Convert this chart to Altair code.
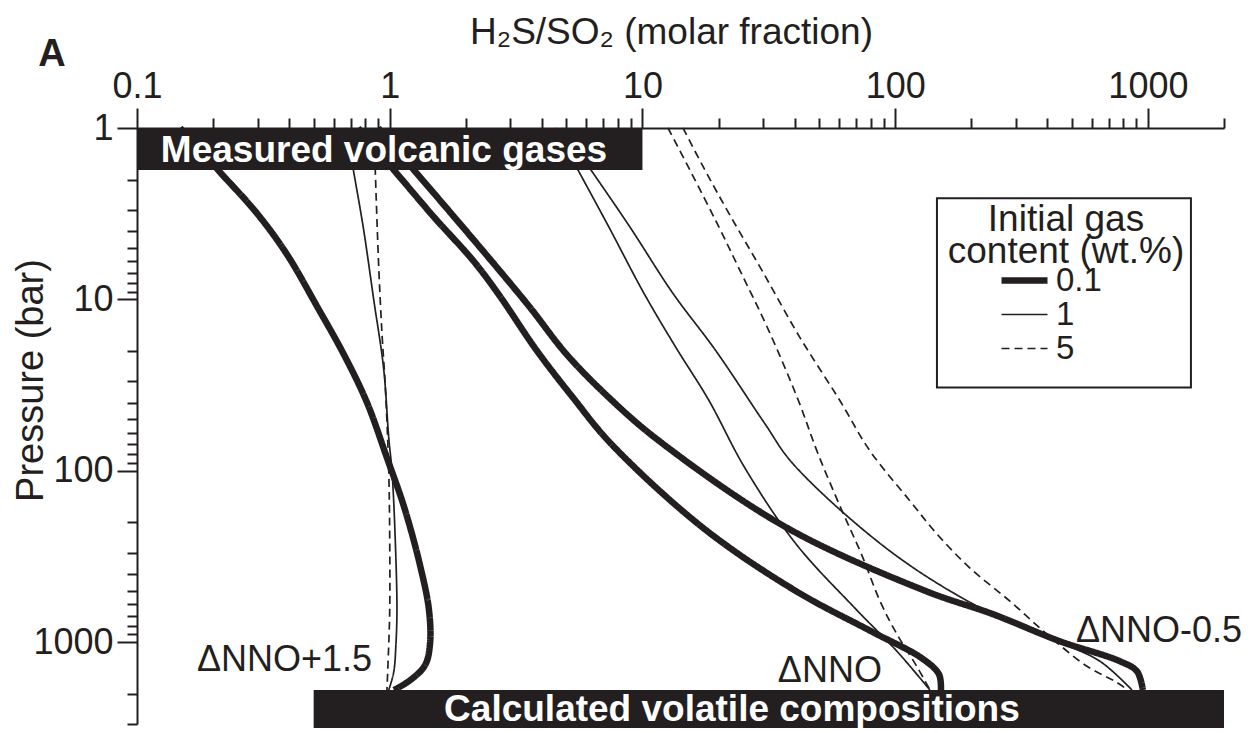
import altair as alt
import pandas as pd

FONT = "Liberation Sans, Arial, Helvetica, sans-serif"
INK = "#231f20"

# ---------------- data (H2S/SO2 ratio vs pressure in bar) ----------------
# dNNO+1.5
p_p15_01 = [1, 1.81, 3.14, 5.46, 11.0, 21.0, 40.0, 84, 162, 354, 650, 1027, 1363, 1668, 1900]
x_p15_01 = [0.148, 0.213, 0.298, 0.392, 0.516, 0.659, 0.813, 0.975, 1.139, 1.317, 1.43, 1.443, 1.379, 1.203, 1.039]
p_p15_1 = [1, 1.80, 3.95, 10, 25.3, 64, 101, 256, 647, 1032, 1496, 1900]
x_p15_1 = [0.671, 0.720, 0.789, 0.864, 0.946, 0.991, 1.021, 1.052, 1.068, 1.058, 1.037, 0.991]
p_p15_5 = [1, 1.8, 6.3, 15.9, 31.8, 101, 256, 647, 1030, 1900]
x_p15_5 = [0.866, 0.877, 0.904, 0.932, 0.960, 0.991, 1.0, 1.0, 0.991, 0.975]
# dNNO
p_0_01 = [1, 1.76, 3.31, 5.92, 9.22, 19.9, 37.4, 69.5, 215, 503, 862, 1241, 1539, 1900]
x_0_01 = [0.749, 1.039, 1.497, 2.135, 2.68, 3.82, 5.31, 7.51, 17.36, 40.5, 80.2, 127.6, 149, 151.7]
p_0_1 = [1, 1.76, 3.79, 9.22, 19.1, 38.9, 96, 267, 633, 1129, 1900]
x_0_1 = [4.51, 5.56, 7.37, 10.14, 13.57, 18.33, 25.4, 40.5, 69.3, 101.6, 137.2]
p_0_5 = [1, 1.76, 3.69, 6.77, 15.2, 38.9, 79.5, 171, 306, 576, 898, 1419, 1900]
x_0_5 = [12.62, 15.41, 19.9, 24.3, 31.6, 41.4, 49.5, 61.6, 73.5, 87.1, 101.6, 123, 137.2]
# dNNO-0.5
p_m05_01 = [1, 1.76, 3.14, 5.92, 11.14, 20.7, 37.4, 66.8, 215, 503, 686, 987, 1291, 1478, 1900]
x_m05_01 = [0.899, 1.247, 1.747, 2.516, 3.59, 4.98, 7.37, 11.62, 37.3, 132.3, 243.7, 448.6, 775, 905, 955]
p_m05_1 = [1, 1.76, 3.79, 9.22, 19.9, 53.1, 91.0, 293.7, 633, 987, 1291, 1900]
x_m05_1 = [4.80, 6.26, 8.93, 13.2, 19.5, 30.5, 39.4, 95.3, 218.4, 436.5, 645.8, 864.6]
p_m05_5 = [1, 1.76, 3.23, 6.77, 16.7, 38.9, 76.4, 149.8, 233.6, 369.3, 576, 898, 1381, 1691, 1900]
x_m05_5 = [14.47, 17.67, 22.2, 29.7, 42.0, 60.4, 79.4, 114.4, 146.3, 197.6, 284.4, 398.6, 573.8, 740.4, 833.6]

content_levels = ["0.1", "1", "5"]
curves = [
    ("p15", "0.1", p_p15_01, x_p15_01), ("p15", "1", p_p15_1, x_p15_1), ("p15", "5", p_p15_5, x_p15_5),
    ("0", "0.1", p_0_01, x_0_01), ("0", "1", p_0_1, x_0_1), ("0", "5", p_0_5, x_0_5),
    ("m05", "0.1", p_m05_01, x_m05_01), ("m05", "1", p_m05_1, x_m05_1), ("m05", "5", p_m05_5, x_m05_5),
]
rows = []
for buf, content, ps, xs in curves:
    for i, (p, x) in enumerate(zip(ps, xs)):
        rows.append({"curve": buf + "_" + content, "content": content, "p": p, "x": x, "i": i})
df = pd.DataFrame(rows)

# annotation boxes (black bars) and legend frame
box_x = [0.1, 0.5]
box_x2 = [10, 2000]
box_p = [1.0, 1900]
box_p2 = [1.76, 3200]
box_text = ["Measured volcanic gases", "Calculated volatile compositions"]
box_text_x = [0.949, 22.6]
box_text_p = [1.354, 2470]

frame_x = [146.3]
frame_x2 = [1479.7]
frame_p = [2.566]
frame_p2 = [32.7]

buf_label = ["\u0394NNO+1.5", "\u0394NNO", "\u0394NNO-0.5"]
buf_label_x = [0.851, 88.6, 519]
buf_label_p = [1274, 1478, 862]
buf_label_align = ["right", "right", "left"]

x_major = [0.1, 1, 10, 100, 1000]
y_major = [1, 10, 100, 1000]
x_minor = [round(m * 10 ** e, 6) for e in range(-1, 3) for m in range(2, 10)] + [2000]
y_minor = [m * 10 ** e for e in range(0, 3) for m in range(2, 10)] + [2000, 3000]

bars_df = pd.DataFrame({"x": box_x, "x2": box_x2, "p": box_p, "p2": box_p2})
frame_df = pd.DataFrame({"x": frame_x, "x2": frame_x2, "p": frame_p, "p2": frame_p2})
bar_text_df = pd.DataFrame({"x": box_text_x, "p": box_text_p, "t": box_text})
lab_df = pd.DataFrame({"x": buf_label_x, "p": buf_label_p, "t": buf_label, "a": buf_label_align})

xscale = alt.Scale(type="log", domain=[0.1, 2000], nice=False)
yscale = alt.Scale(type="log", domain=[1, 3000], nice=False, reverse=True)

common_axis = dict(grid=False, tickWidth=2, tickColor=INK, domainColor=INK, domainWidth=2, zindex=2)

x_axis_major = alt.Axis(
    orient="top", values=x_major, format="~g", labelOverlap=False, labelFlush=False,
    tickSize=20, labelFont=FONT, labelFontSize=36, labelColor=INK, labelPadding=3,
    title="H\u2082S/SO\u2082 (molar fraction)", titleFont=FONT, titleFontSize=37,
    titleFontWeight="normal", titleColor=INK, titlePadding=17, titleX=534, **common_axis,
)
y_axis_major = alt.Axis(
    orient="left", values=y_major, format="~g", labelOverlap=False, labelFlush=False,
    tickSize=20, labelFont=FONT, labelFontSize=36, labelColor=INK, labelPadding=4,
    title="Pressure (bar)", titleFont=FONT, titleFontSize=38,
    titleFontWeight="normal", titleColor=INK, titleX=-87, titleY=252, **common_axis,
)
x_axis_minor = alt.Axis(orient="top", values=x_minor, labels=False, domain=False, tickSize=10, title=None, **common_axis)
y_axis_minor = alt.Axis(orient="left", values=y_minor, labels=False, domain=False, tickSize=10, title=None, **common_axis)

legend = alt.Legend(
    title=["Initial gas", "content (wt.%)"], orient="none", legendX=811, legendY=74,
    titleFont=FONT, titleFontSize=37, titleFontWeight="normal", titleColor=INK,
    titleAnchor="middle", titleAlign="center", titleLineHeight=32, titlePadding=-7, titleLimit=400,
    labelFont=FONT, labelFontSize=33, labelColor=INK, labelOffset=15,
    symbolType="M-2,0H2", symbolSize=529, symbolStrokeColor=INK, symbolOffset=-23,
    padding=0, rowPadding=-3.5,
)

lines = alt.Chart(df).mark_line(color=INK, interpolate="catmull-rom", strokeCap="butt", strokeJoin="round").encode(
    x=alt.X("x:Q", scale=xscale, axis=x_axis_major),
    y=alt.Y("p:Q", scale=yscale, axis=y_axis_major),
    detail="curve:N",
    order="i:Q",
    strokeWidth=alt.StrokeWidth("content:N", scale=alt.Scale(type="ordinal", domain=content_levels, range=[6.5, 1.7, 1.7]), legend=legend),
    strokeDash=alt.StrokeDash("content:N", scale=alt.Scale(domain=content_levels, range=[[1, 0], [1, 0], [8, 5]]), legend=legend),
)

bars = alt.Chart(bars_df).mark_rect(color=INK).encode(
    x=alt.X("x:Q", scale=xscale, axis=x_axis_minor), x2="x2:Q",
    y=alt.Y("p:Q", scale=yscale, axis=y_axis_minor), y2="p2:Q",
)

frame = alt.Chart(frame_df).mark_rect(fill="white", stroke=INK, strokeWidth=2).encode(
    x=alt.X("x:Q", scale=xscale, axis=None), x2="x2:Q",
    y=alt.Y("p:Q", scale=yscale, axis=None), y2="p2:Q",
)

bar_text = alt.Chart(bar_text_df).mark_text(
    font=FONT, fontSize=37, fontWeight="bold", color="white", align="center", baseline="middle"
).encode(
    x=alt.X("x:Q", scale=xscale, axis=None),
    y=alt.Y("p:Q", scale=yscale, axis=None),
    text="t:N",
)

def buf_layer(align):
    return alt.Chart(lab_df).transform_filter(
        alt.datum.a == align
    ).mark_text(font=FONT, fontSize=36, color=INK, baseline="middle", align=align).encode(
        x=alt.X("x:Q", scale=xscale, axis=None),
        y=alt.Y("p:Q", scale=yscale, axis=None),
        text="t:N",
    )

panel = alt.Chart(pd.DataFrame({"t": ["A"]})).mark_text(
    font=FONT, fontSize=38, fontWeight="bold", color=INK, align="center", baseline="middle"
).encode(x=alt.value(-85), y=alt.value(-73), text="t:N")

chart = alt.layer(lines, bars, frame, bar_text, buf_layer("right"), buf_layer("left"), panel).resolve_axis(
    x="independent", y="independent"
).properties(
    width=1087, height=596,
    autosize=alt.AutoSizeParams(type="none"),
    padding={"left": 129, "top": 120, "right": 21, "bottom": 4},
).configure_view(stroke=None)

chart.save("out.html", embed_options={"renderer": "svg", "actions": False})
